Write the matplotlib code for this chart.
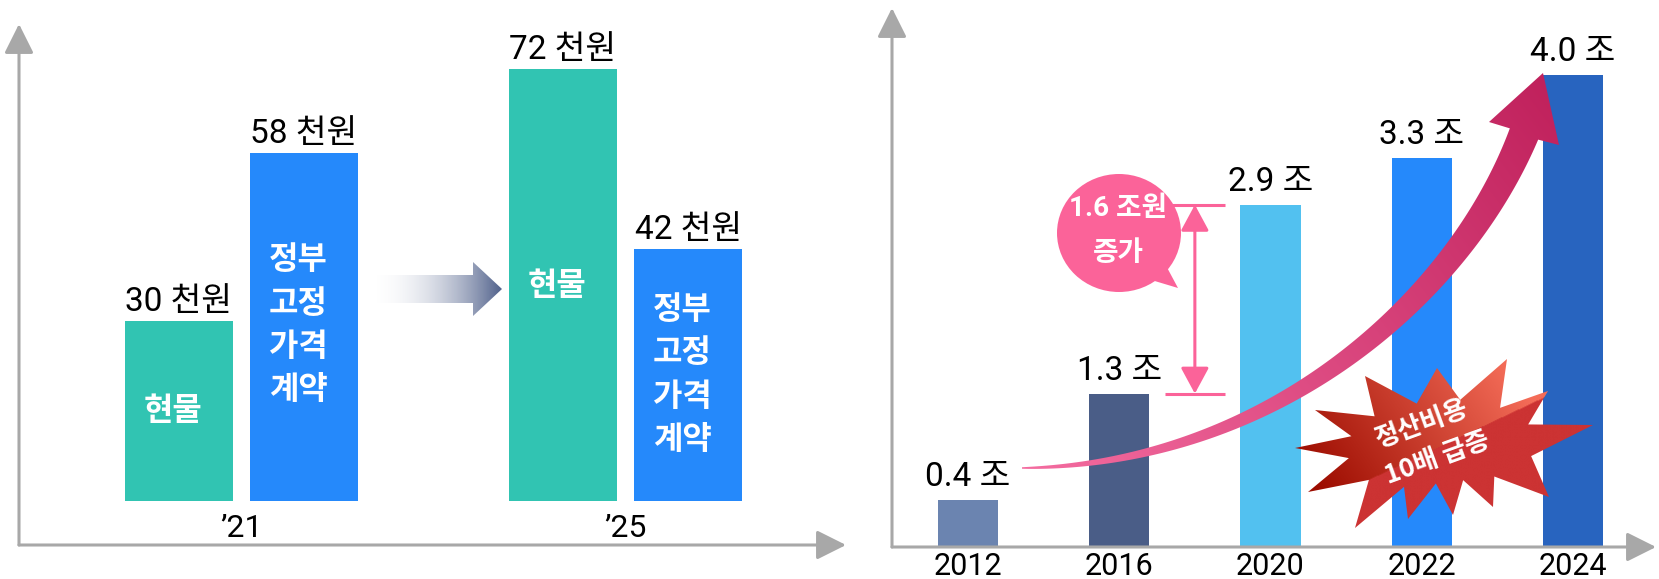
import numpy as np
import matplotlib
matplotlib.use('Agg')
import matplotlib.pyplot as plt
from matplotlib.patches import Polygon, Ellipse
from matplotlib.colors import to_rgb

W, H = 1659, 579

# left chart: price per unit, two periods
price_groups = ['\u201921', '\u201925']
price_kinds = ['현물', '정부\n고정\n가격\n계약']
price_values = [[30, 58], [72, 42]]
price_colors = ['#31c4b2', '#2589fb']

# right chart: settlement cost by year
years = ['2012', '2016', '2020', '2022', '2024']
cost_values = [0.4, 1.3, 2.9, 3.3, 4.0]
cost_colors = ['#6b84b0', '#4a5d87', '#52c1f0', '#2589fb', '#2864bf']

FONT_NUM = ['Roboto', 'Noto Sans CJK KR', 'DejaVu Sans']
FONT_KR = ['Noto Sans CJK KR', 'DejaVu Sans']
plt.rcParams['font.family'] = FONT_KR

AXIS_GRAY = '#a8a8a8'
PINK = '#fb6399'

fig = plt.figure(figsize=(W / 100, H / 100), dpi=100)


def px_axes(left, top, right, bottom):
    return fig.add_axes([left / W, 1 - bottom / H, (right - left) / W, (bottom - top) / H])


def axis_arrows(ax):
    kw = dict(xycoords='axes fraction', textcoords='axes fraction', annotation_clip=False,
              arrowprops=dict(arrowstyle='-|>,head_length=0.5,head_width=0.25', color=AXIS_GRAY,
                              lw=2.2, mutation_scale=36, shrinkA=0, shrinkB=0))
    ax.annotate('', xy=(0, 1), xytext=(0, 0), **kw)
    ax.annotate('', xy=(1, 0), xytext=(0, 0), **kw)


def grid_for(verts):
    x0, y0 = verts.min(0)
    x1, y1 = verts.max(0)
    X, Y = np.meshgrid(np.linspace(x0, x1, int(x1 - x0) + 2), np.linspace(y0, y1, int(y1 - y0) + 2))
    return X, Y, (x0, x1, y1, y0)


def ramp(X, Y, p0, p1):
    d = np.array(p1, float) - np.array(p0, float)
    t = ((X - p0[0]) * d[0] + (Y - p0[1]) * d[1]) / (d @ d)
    return np.clip(t, 0, 1)[..., None]


def show_clipped(ax, img, extent, verts):
    poly = Polygon(verts, closed=True, facecolor='none', edgecolor='none')
    ax.add_patch(poly)
    im = ax.imshow(img, extent=extent, origin='upper', aspect='auto', interpolation='bilinear')
    im.set_clip_path(poly)
    return im


def gradient_fill(ax, verts, c0, c1, p0, p1, alpha=None):
    verts = np.asarray(verts, dtype=float)
    X, Y, ext = grid_for(verts)
    t = ramp(X, Y, p0, p1)
    img = np.array(to_rgb(c0)) * (1 - t) + np.array(to_rgb(c1)) * t
    if alpha is not None:
        img = np.concatenate([img, alpha[0] * (1 - t) + alpha[1] * t], axis=2)
    return show_clipped(ax, img, ext, verts)


# ---------- left chart ----------
ax1 = px_axes(19, 24, 846, 545)
ax1.set_xlim(-0.579, 1.574)
ax1.set_ylim(-7.33, 79.5)
ax1.axis('off')
axis_arrows(ax1)

offsets = [-0.163, 0.163]
inner_y = [[15, 29.3], [35.8, 21]]
for g, vals in enumerate(price_values):
    for k, v in enumerate(vals):
        x = g + offsets[k]
        ax1.bar(x, v, width=0.281, color=price_colors[k])
        ax1.annotate(f'{v} 천원', (x, v), xytext=(0, 7), textcoords='offset points',
                     ha='center', va='baseline', fontsize=24, family=FONT_NUM)
        ax1.text(x - 0.015, inner_y[g][k], price_kinds[k], ha='center', va='center',
                 color='white', fontsize=23, fontweight='bold', linespacing=1.45)
    ax1.text(g, -6, price_groups[g], ha='center', va='baseline', fontsize=23, family=FONT_NUM)

# ---------- right chart ----------
ax2 = px_axes(892, 8, 1656, 547)
ax2.set_xlim(-0.5025, 4.549)
ax2.set_ylim(0, 4.568)
ax2.axis('off')
axis_arrows(ax2)

xs = np.arange(len(years))
ax2.bar(xs, cost_values, width=0.397, color=cost_colors)
for x, v, yr in zip(xs, cost_values, years):
    ax2.annotate(f'{v} 조', (x, v), xytext=(0, 10), textcoords='offset points',
                 ha='center', va='baseline', fontsize=24, family=FONT_NUM)
    ax2.annotate(yr, (x, 0), xytext=(0, -20.2), textcoords='offset points',
                 ha='center', va='baseline', fontsize=22, family=FONT_NUM, annotation_clip=False)

# difference marker between 2016 and 2020
lo, hi = cost_values[1], cost_values[2]
ax2.hlines([hi, lo], 1.30, 1.70, color=PINK, lw=2.2)
ax2.annotate('', xy=(1.5, hi), xytext=(1.5, lo),
             arrowprops=dict(arrowstyle='<|-|>,head_length=0.5,head_width=0.27', color=PINK,
                             lw=2.2, mutation_scale=32, shrinkA=0, shrinkB=0))

# ---------- overlay decorations (pixel coords) ----------
ov = fig.add_axes([0, 0, 1, 1])
ov.set_xlim(0, W)
ov.set_ylim(H, 0)
ov.axis('off')

# gradient arrow between periods
arrow_l = [(377, 275), (473, 275), (473, 262), (502, 289), (473, 316), (473, 303), (377, 303)]
gradient_fill(ov, arrow_l, '#ffffff', '#56668f', (370, 0), (500, 0), alpha=(0.0, 1.0))

# speech bubble
ov.add_patch(Ellipse((1119, 233), 124, 118, color=PINK, lw=0))
ov.add_patch(Polygon([(1163, 260), (1148, 279), (1178, 288)], closed=True, color=PINK, lw=0))
ov.text(1118, 208, '1.6 조원', color='white', fontsize=20, fontweight='bold', ha='center',
        va='center', family=FONT_NUM)
ov.text(1118, 253, '증가', color='white', fontsize=20, fontweight='bold', ha='center', va='center')

# curved growth arrow
P = np.array([[1022, 468], [1270, 465], [1458, 300], [1524, 134]], float)
t = np.linspace(0, 1, 120)[:, None]
c = ((1 - t) ** 3) * P[0] + 3 * ((1 - t) ** 2) * t * P[1] + 3 * (1 - t) * t ** 2 * P[2] + t ** 3 * P[3]
dc = 3 * ((1 - t) ** 2) * (P[1] - P[0]) + 6 * (1 - t) * t * (P[2] - P[1]) + 3 * t ** 2 * (P[3] - P[2])
tan = dc / np.linalg.norm(dc, axis=1, keepdims=True)
nrm = np.column_stack([-tan[:, 1], tan[:, 0]])
w = (1.5 + 29 * t[:, 0] ** 0.85)[:, None]
edge_a = c + nrm * w / 2
edge_b = c - nrm * w / 2
head = np.array([[1559, 145], [1543, 73], [1489, 122]], float)
if np.dot(nrm[-1], head[0] - P[3]) < 0:
    head = head[::-1]
curve_verts = np.vstack([edge_a, head, edge_b[::-1]])
gradient_fill(ov, curve_verts, '#f46ca0', '#c0215c', (1022, 468), (1543, 74))

# starburst
center = np.array([1444, 445.0])
spikes = np.array([(1593, 425), (1548, 391), (1507, 359), (1437, 368), (1365, 376), (1315, 410),
                   (1295, 448), (1308, 492), (1355, 528), (1408, 519), (1453, 515), (1493, 507),
                   (1549, 497)], float)
star = []
for i in range(len(spikes)):
    a, b = spikes[i], spikes[(i + 1) % len(spikes)]
    va_, vb_ = a - center, b - center
    ang_a = np.arctan2(va_[1], va_[0])
    ang_b = np.arctan2(vb_[1], vb_[0])
    if ang_b > ang_a:
        ang_b -= 2 * np.pi
    mid = (ang_a + ang_b) / 2
    r = 0.6 * (np.linalg.norm(va_) + np.linalg.norm(vb_)) / 2
    star.append(a)
    star.append(center + r * np.array([np.cos(mid) * 1.1, np.sin(mid) * 0.85]))
star = np.array(star)
X, Y, ext = grid_for(star)
A, B = np.array([1320, 503.0]), np.array([1560, 390.0])
above = ((B[0] - A[0]) * (Y - A[1]) - (B[1] - A[1]) * (X - A[0])) < 0
tt = ramp(X, Y, (1318, 490), (1505, 362))
shade = np.array(to_rgb('#9c0c00')) * (1 - tt) + np.array(to_rgb('#f46c58')) * tt
flat = np.broadcast_to(np.array(to_rgb('#cc3333')), shade.shape)
star_img = np.where(above[..., None], shade, flat)
show_clipped(ov, star_img, ext, star)
ov.text(1421, 424, '정산비용', color='white', fontsize=19, fontweight='bold',
        ha='center', va='center', rotation=20)
ov.text(1437, 458, '10배 급증', color='white', fontsize=19, fontweight='bold',
        ha='center', va='center', rotation=20)

ov.set_xlim(0, W)
ov.set_ylim(H, 0)

fig.savefig('out.png', dpi=100, facecolor='white')
